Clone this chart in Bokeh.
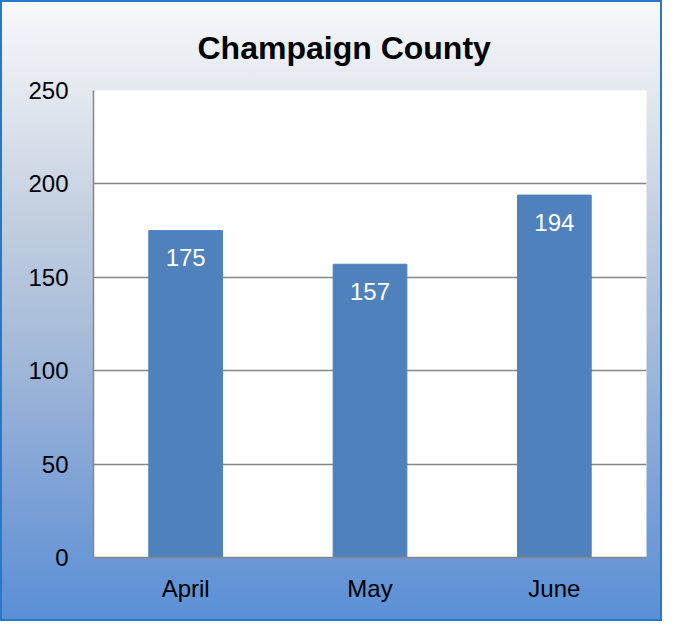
from bokeh.plotting import figure
from bokeh.models import ColumnDataSource, LabelSet, Range1d
from bokeh.embed import file_html
from bokeh.resources import INLINE
from bokeh.core.properties import value

months = ["April", "May", "June"]
counts = [175, 157, 194]
y_ticks = [0, 50, 100, 150, 200, 250]
title_text = "Champaign County"

FONT = "Liberation Sans"
GRID = "#868686"

src = ColumnDataSource(dict(month=months, count=counts, label=[str(c) for c in counts]))

p = figure(x_range=months, y_range=Range1d(0, 250), width=662, height=621,
           output_backend="svg", toolbar_location=None,
           min_border_left=93, min_border_right=16, min_border_top=90, min_border_bottom=64)

p.styles = {
    "background": "linear-gradient(to bottom, #f7f8fb 0%, #e3e8ef 15%, #c3cfe0 35%, #a6bbd9 55%, #7fa2d6 78%, #5a8fd6 100%)",
    "outline": "2px solid #2878c8",
    "outline-offset": "-2px",
}
p.border_fill_color = None
p.background_fill_color = "white"
p.outline_line_color = None

p.vbar(x="month", top="count", width=0.4, source=src, fill_color="#4f81bd", line_color="#4f81bd")

labels = LabelSet(x="month", y="count", text="label", source=src, text_align="center",
                  text_baseline="middle", y_offset=-27, text_color="white",
                  text_font=value(FONT), text_font_size="24px")
p.add_layout(labels)

p.xgrid.grid_line_color = None
p.ygrid.grid_line_color = GRID
p.ygrid.grid_line_width = 1.5
p.yaxis.ticker = y_ticks

for ax in (p.xaxis, p.yaxis):
    ax.axis_line_color = GRID
    ax.axis_line_width = 1.5
    ax.major_tick_line_color = None
    ax.minor_tick_line_color = None
    ax.major_tick_out = 0
    ax.major_tick_in = 0
    ax.major_label_text_font = FONT
    ax.major_label_text_font_size = "24px"
    ax.major_label_text_color = "black"

p.yaxis.major_label_standoff = 25
p.xaxis.major_label_standoff = 17

p.title.text = title_text
p.title.align = "left"
p.title.text_font = FONT
p.title.text_font_size = "32px"
p.title.text_font_style = "bold"
p.title.text_color = "black"
p.title.standoff = 50
p.title.offset = 104

open("out.html", "w").write(file_html(p, INLINE))
